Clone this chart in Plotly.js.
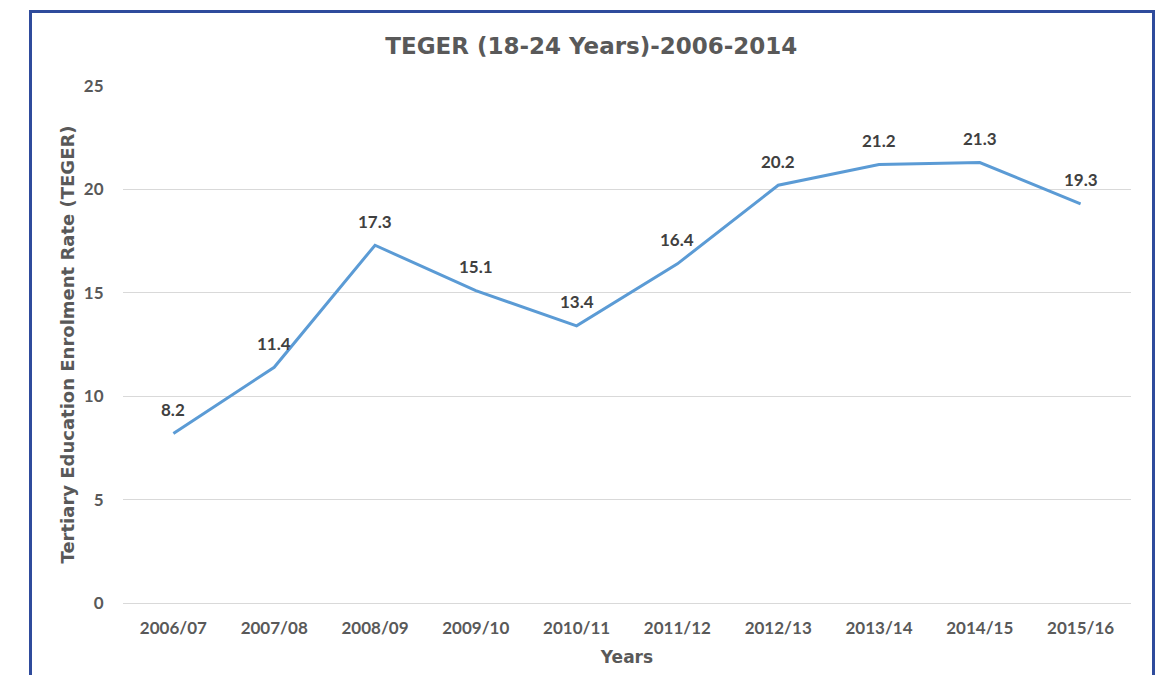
<!DOCTYPE html>
<html>
<head>
<meta charset="utf-8">
<script src="https://cdn.plot.ly/plotly-3.0.1.min.js"></script>
<style>
html,body{margin:0;padding:0;background:#fff;}
#wrap{position:relative;width:1164px;height:675px;overflow:hidden;}
#chart{width:1164px;height:675px;}
#frame{position:absolute;left:29px;top:10px;width:1120px;height:720px;border:3px solid #2f4b9c;pointer-events:none;}
</style>
</head>
<body>
<div id="wrap"><div id="chart"></div><div id="frame"></div></div>
<script>
const years = ["2006/07","2007/08","2008/09","2009/10","2010/11","2011/12","2012/13","2013/14","2014/15","2015/16"];
const teger = [8.2, 11.4, 17.3, 15.1, 13.4, 16.4, 20.2, 21.2, 21.3, 19.3];
const yTicks = [0, 5, 10, 15, 20, 25];

const FONT = "Lato, 'DejaVu Sans', sans-serif";
const WIDE = "'DejaVu Sans', sans-serif";

const trace = {
  x: years,
  y: teger,
  type: "scatter",
  mode: "lines",
  line: {color: "#5b9bd5", width: 3},
  hoverinfo: "x+y"
};

const annotations = years.map((c, i) => ({
  x: c, y: teger[i], xref: "x", yref: "y",
  text: teger[i].toFixed(1),
  showarrow: false,
  yanchor: "middle", xanchor: "center",
  yshift: 24,
  font: {family: FONT, size: 17, color: "#404040", weight: "bold"}
}));

const layout = {
  width: 1164, height: 675,
  margin: {l: 123, r: 33, t: 86, b: 72, pad: 0},
  paper_bgcolor: "#ffffff",
  plot_bgcolor: "#ffffff",
  showlegend: false,
  title: {
    text: "<b>TEGER (18-24 Years)-2006-2014</b>",
    x: 0.508, xanchor: "center",
    y: 0.932, yanchor: "middle",
    font: {family: WIDE, size: 23, color: "#595959"}
  },
  xaxis: {
    type: "category",
    range: [-0.5, years.length - 0.5],
    showgrid: false, zeroline: false, showline: false,
    ticks: "outside", ticklen: 10, tickcolor: "rgba(0,0,0,0)",
    tickfont: {family: FONT, size: 17, color: "#595959", weight: "bold"},
    title: {text: "<b>Years</b>", standoff: 13, font: {family: WIDE, size: 17, color: "#595959"}}
  },
  yaxis: {
    range: [0, 25],
    tickvals: yTicks,
    ticktext: yTicks.map(String),
    showgrid: true, gridcolor: "#d9d9d9", gridwidth: 1,
    zeroline: true, zerolinecolor: "#d9d9d9", zerolinewidth: 1,
    showline: false,
    ticks: "outside", ticklen: 15, tickcolor: "rgba(0,0,0,0)",
    tickfont: {family: FONT, size: 17, color: "#595959", weight: "bold"},
    title: {text: "<b>Tertiary Education Enrolment Rate (TEGER)</b>", standoff: 4, font: {family: WIDE, size: 18, color: "#595959"}}
  },
  annotations: annotations
};

Plotly.newPlot("chart", [trace], layout, {displayModeBar: false, staticPlot: true});
</script>
</body>
</html>
